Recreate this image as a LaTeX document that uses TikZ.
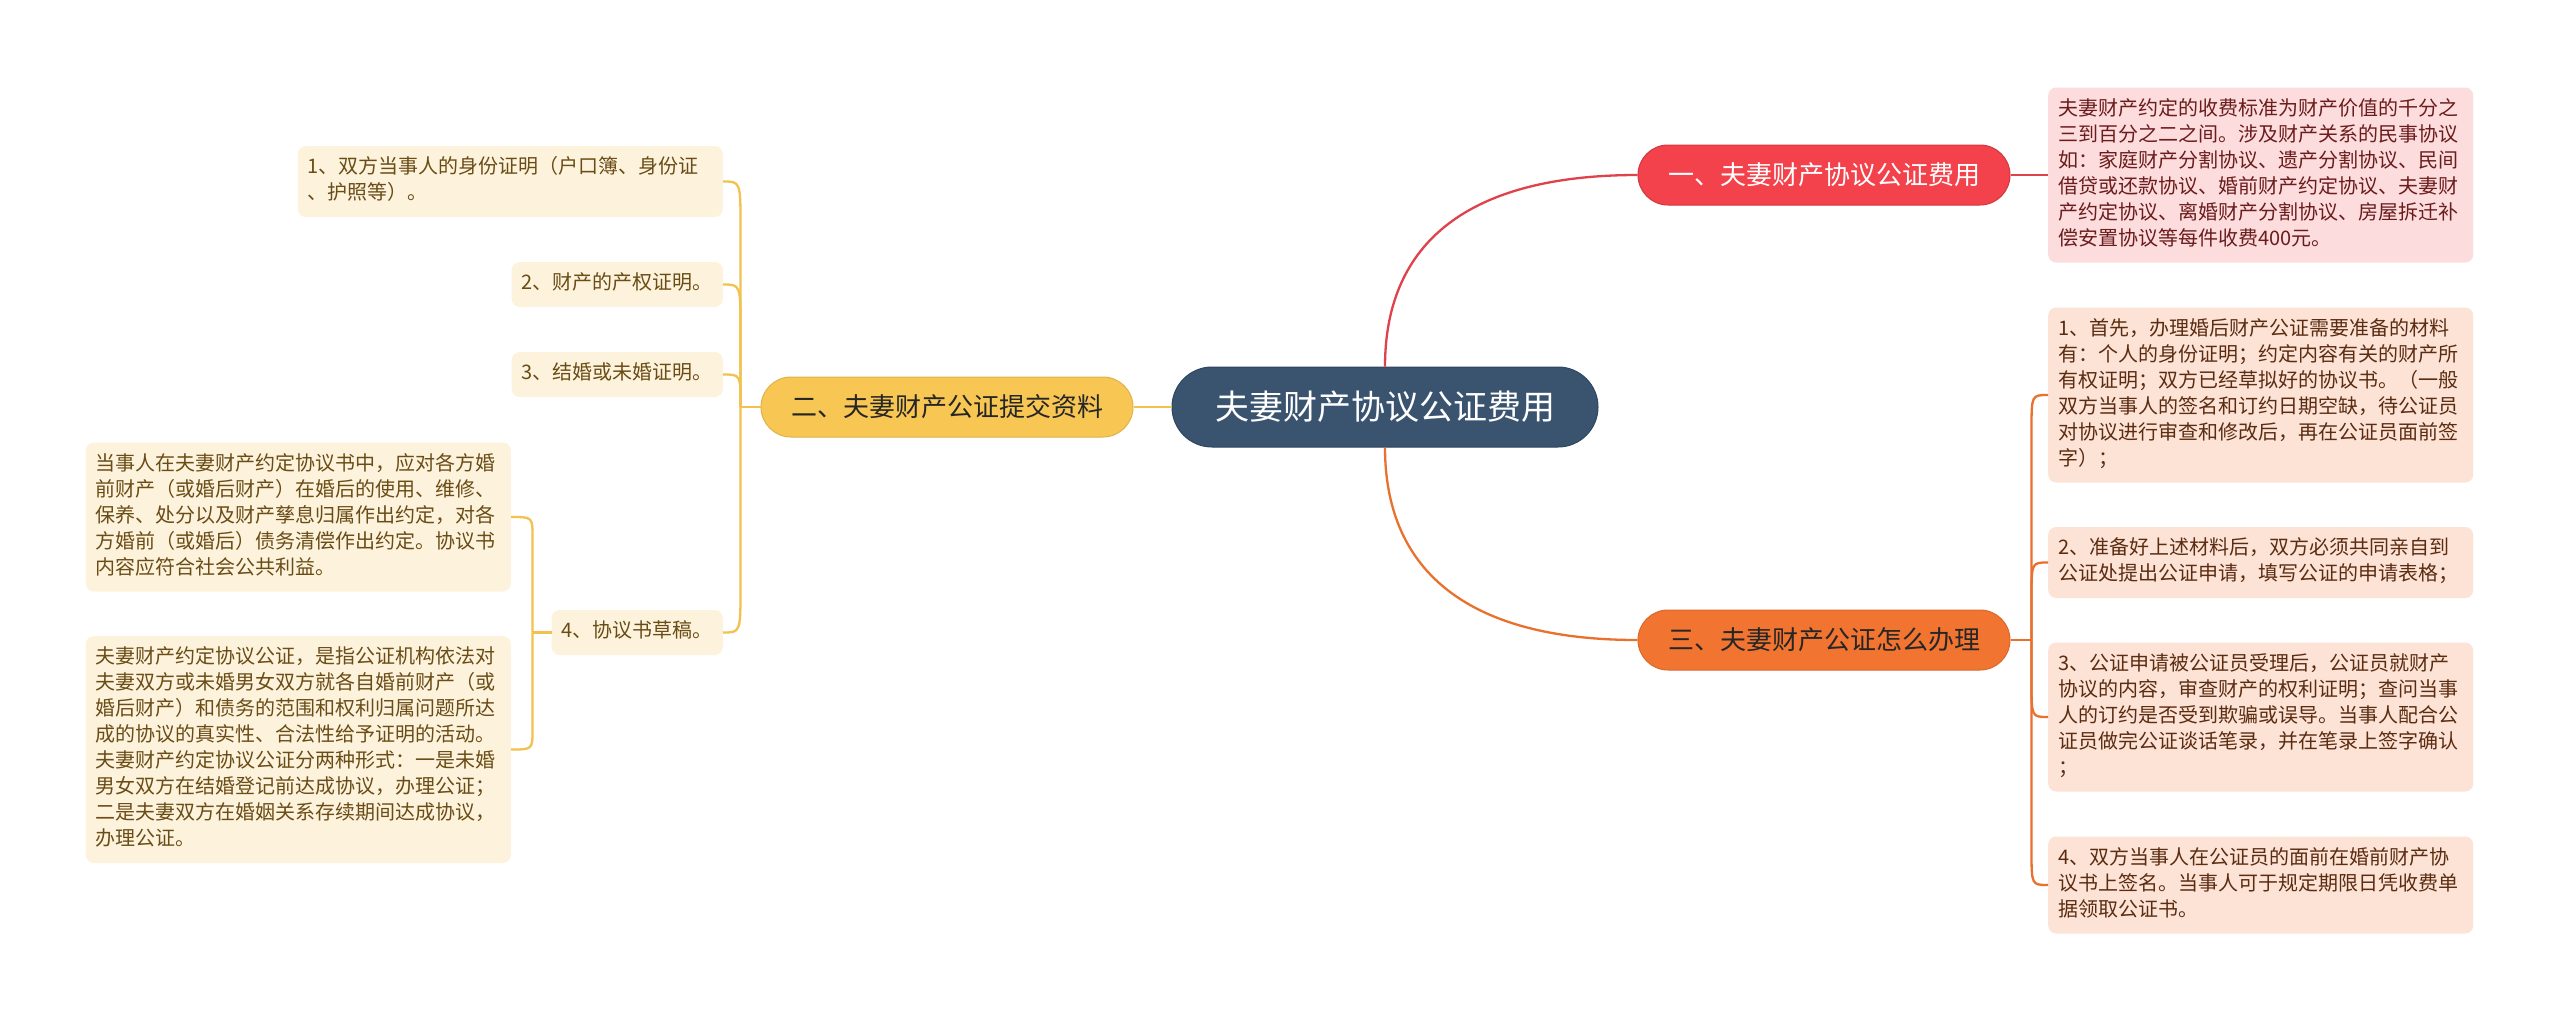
\documentclass[tikz,border=0pt]{standalone}
\usepackage{fontspec}
\newfontfamily\cjk{Noto Sans CJK SC}
\usetikzlibrary{calc}
\definecolor{cfill}{HTML}{3A5470}
\definecolor{cdraw}{HTML}{2E4660}
\definecolor{rfill}{HTML}{F3424B}
\definecolor{rline}{HTML}{E0424B}
\definecolor{rbox}{HTML}{FCDCDD}
\definecolor{rtext}{HTML}{6B1C1C}
\definecolor{ofill}{HTML}{F27431}
\definecolor{oline}{HTML}{E8712E}
\definecolor{obox}{HTML}{FCE3D5}
\definecolor{otext}{HTML}{5B2C12}
\definecolor{yfill}{HTML}{F8C653}
\definecolor{yline}{HTML}{F2C14E}
\definecolor{ybox}{HTML}{FDF3DC}
\definecolor{ytext}{HTML}{6A4C16}
\newcommand\elbow[4]{\draw[#1] (#2) -- ($(#2 |- #3)!#4!(#2)$) .. controls (#2 |- #3) .. (#3);}
\begin{document}
\begin{tikzpicture}[x=1pt,y=-1pt,
  central/.style={fill=cfill, draw=cdraw, line width=1pt, rounded corners=40pt, minimum width=426pt, minimum height=80pt, inner sep=0pt, text=white, font=\cjk\fontsize{34}{40}\selectfont},
  mainbr/.style={rounded corners=30pt, minimum width=372pt, minimum height=60pt, inner sep=0pt, line width=1pt, font=\cjk\fontsize{26}{30}\selectfont},
  tbox/.style={rounded corners=8pt, inner xsep=10pt, inner ysep=9.5pt, align=left, font=\cjk\fontsize{20}{26}\selectfont, execute at begin node=\strut, execute at end node=\strut},
  wide/.style={text width=405pt},
  redl/.style={draw=rline, line width=2.3pt},
  orl/.style={draw=oline, line width=2.3pt},
  yell/.style={draw=yline, line width=2.3pt},
]
\path[use as bounding box, fill=white] (0,0) rectangle (2560,1021);

% central and main branches
\node[central] (C) at (1385,407) {夫妻财产协议公证费用};
\node[mainbr, fill=rfill, draw=rfill!85!black, text=white] (B1) at (1824,175) {一、夫妻财产协议公证费用};
\node[mainbr, fill=yfill, draw=yfill!90!black, text=black!85] (B2) at (947,407) {二、夫妻财产公证提交资料};
\node[mainbr, fill=ofill, draw=ofill!90!black, text=black!85] (B3) at (1824,640) {三、夫妻财产公证怎么办理};

% right boxes
\node[tbox, wide, fill=rbox, text=rtext, anchor=west] (R0) at (2048,175) {夫妻财产约定的收费标准为财产价值的千分之\\三到百分之二之间。涉及财产关系的民事协议\\如：家庭财产分割协议、遗产分割协议、民间\\借贷或还款协议、婚前财产约定协议、夫妻财\\产约定协议、离婚财产分割协议、房屋拆迁补\\偿安置协议等每件收费400元。};
\node[tbox, wide, fill=obox, text=otext, anchor=west] (R1) at (2048,395) {1、首先，办理婚后财产公证需要准备的材料\\有：个人的身份证明；约定内容有关的财产所\\有权证明；双方已经草拟好的协议书。（一般\\双方当事人的签名和订约日期空缺，待公证员\\对协议进行审查和修改后，再在公证员面前签\\字）；};
\node[tbox, wide, fill=obox, text=otext, anchor=west] (R2) at (2048,562.5) {2、准备好上述材料后，双方必须共同亲自到\\公证处提出公证申请，填写公证的申请表格；};
\node[tbox, wide, fill=obox, text=otext, anchor=west] (R3) at (2048,717) {3、公证申请被公证员受理后，公证员就财产\\协议的内容，审查财产的权利证明；查问当事\\人的订约是否受到欺骗或误导。当事人配合公\\证员做完公证谈话笔录，并在笔录上签字确认\\；};
\node[tbox, wide, fill=obox, text=otext, anchor=west] (R4) at (2048,885) {4、双方当事人在公证员的面前在婚前财产协\\议书上签名。当事人可于规定期限日凭收费单\\据领取公证书。};

% left boxes
\node[tbox, wide, fill=ybox, text=ytext, anchor=east] (L1) at (723,181.5) {1、双方当事人的身份证明（户口簿、身份证\\、护照等）。};
\node[tbox, fill=ybox, text=ytext, anchor=east] (L2) at (723,284.5) {2、财产的产权证明。};
\node[tbox, fill=ybox, text=ytext, anchor=east] (L3) at (723,374.5) {3、结婚或未婚证明。};
\node[tbox, fill=ybox, text=ytext, anchor=east] (L4) at (723,632.5) {4、协议书草稿。};
\node[tbox, wide, fill=ybox, text=ytext, anchor=east] (L4a) at (511,517) {当事人在夫妻财产约定协议书中，应对各方婚\\前财产（或婚后财产）在婚后的使用、维修、\\保养、处分以及财产孳息归属作出约定，对各\\方婚前（或婚后）债务清偿作出约定。协议书\\内容应符合社会公共利益。};
\node[tbox, wide, fill=ybox, text=ytext, anchor=east] (L4b) at (511,749.5) {夫妻财产约定协议公证，是指公证机构依法对\\夫妻双方或未婚男女双方就各自婚前财产（或\\婚后财产）和债务的范围和权利归属问题所达\\成的协议的真实性、合法性给予证明的活动。\\夫妻财产约定协议公证分两种形式：一是未婚\\男女双方在结婚登记前达成协议，办理公证；\\二是夫妻双方在婚姻关系存续期间达成协议，\\办理公证。};

% connectors from central
\draw[redl] (C.north) .. controls ($(C.north)+(0,-117)$) and ($(B1.west)+(-178,0)$) .. (B1.west);
\draw[orl] (C.south) .. controls ($(C.south)+(0,117)$) and ($(B3.west)+(-178,0)$) .. (B3.west);
\draw[yell] (C.west) -- (B2.east);

% branch 1
\draw[redl] (B1.east) -- (R0.west);

% branch 3
\coordinate (J3) at ($(B3.east)+(21,0)$);
\draw[orl] (B3.east) -- (J3);
\elbow{orl}{J3}{R1.west}{35pt}
\elbow{orl}{J3}{R2.west}{35pt}
\elbow{orl}{J3}{R3.west}{35pt}
\elbow{orl}{J3}{R4.west}{35pt}

% branch 2
\coordinate (J2) at ($(B2.west)+(-20,0)$);
\draw[yell] (B2.west) -- (J2);
\elbow{yell}{J2}{L1.east}{45pt}
\elbow{yell}{J2}{L2.east}{45pt}
\elbow{yell}{J2}{L3.east}{30pt}
\elbow{yell}{J2}{L4.east}{45pt}

% sub-branch 4
\coordinate (J4) at ($(L4.west)+(-19,0)$);
\draw[yell] (L4.west) -- (J4);
\elbow{yell}{J4}{L4a.east}{20pt}
\elbow{yell}{J4}{L4b.east}{20pt}
\end{tikzpicture}
\end{document}
